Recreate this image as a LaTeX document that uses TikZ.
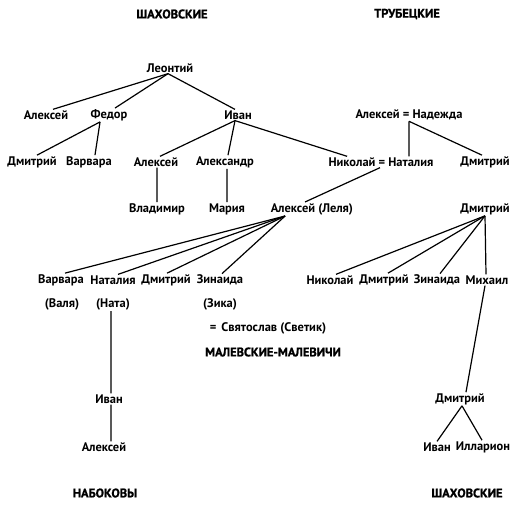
\documentclass[tikz,border=0pt]{standalone}
\usepackage{fontspec}
\setmainfont{PT Sans}
\newfontfamily\heavyfont{PT Sans}[BoldFeatures={FakeBold=1.2}]
\begin{document}
\begin{tikzpicture}[x=1bp,y=-1bp,
  n/.style={inner sep=1bp, font=\bfseries\fontsize{12.5}{14}\selectfont},
  ttl/.style={inner sep=1bp, font=\heavyfont\bfseries\fontsize{12.5}{14}\selectfont},
  ln/.style={line width=1.2bp}]
\useasboundingbox (0,0) rectangle (531,509);
% titles
\node[ttl] (shT) at (172,14) {ШАХОВСКИЕ};
\node[ttl] (trT) at (407,14) {ТРУБЕЦКИЕ};
\node[ttl] (mal) at (273,352) {МАЛЕВСКИЕ-МАЛЕВИЧИ};
\node[ttl] (nab) at (105,493) {НАБОКОВЫ};
\node[ttl] (sh2) at (467,493) {ШАХОВСКИЕ};
% Shakhovskie
\node[n] (leo) at (170,68) {Леонтий};
\node[n] (al1) at (46,115) {Алексей};
\node[n] (fed) at (109,115) {Федор};
\node[n] (iv1) at (238,115) {Иван};
\node[n] (dm1) at (32,162) {Дмитрий};
\node[n] (va1) at (89,162) {Варвара};
\node[n] (al2) at (156,162) {Алексей};
\node[n] (aln) at (225,162) {Александр};
\node[n] (vla) at (157,209) {Владимир};
\node[n] (mar) at (227,209) {Мария};
% Trubetskie
\node[n] (aln2) at (409,115) {Алексей = Надежда};
\node[n] (nik) at (381,162) {Николай = Наталия};
\node[n] (dm2) at (485,162) {Дмитрий};
\node[n] (lel) at (312,209) {Алексей (Леля)};
\node[n] (dm3) at (485,209) {Дмитрий};
% children of Lelya
\node[n] (va2) at (61,280) {Варвара};
\node[n] (nat) at (113,280) {Наталия};
\node[n] (dm4) at (166,280) {Дмитрий};
\node[n] (zin) at (220,280) {Зинаида};
\node[n] (val) at (62,304) {(Валя)};
\node[n] (nata) at (113,304) {(Ната)};
\node[n] (zik) at (220,304) {(Зика)};
\node[n] (svet) at (268,328) {=\hspace{5bp}Святослав (Светик)};
% children of right Dmitry
\node[n] (nik2) at (330,280) {Николай};
\node[n] (dm5) at (384,280) {Дмитрий};
\node[n] (zin2) at (437,280) {Зинаида};
\node[n] (mih) at (487,280) {Михаил};
% lower
\node[n] (iv2) at (109,399) {Иван};
\node[n] (al3) at (104,447) {Алексей};
\node[n] (dm6) at (460,399) {Дмитрий};
\node[n] (iv3) at (437,447) {Иван};
\node[n] (ill) at (483,447) {Илларион};
% connectors
\draw[ln] ([xshift=-2]leo.south) -- ([xshift=7]al1.north);
\draw[ln] ([xshift=-2]leo.south) -- ([xshift=6]fed.north);
\draw[ln] ([xshift=-2]leo.south) -- ([xshift=-3]iv1.north);
\draw[ln] ([xshift=-9]fed.south) -- ([xshift=5]dm1.north);
\draw[ln] ([xshift=-9]fed.south) -- ([xshift=6]va1.north);
\draw[ln] ([xshift=-3]iv1.south) -- ([xshift=4]al2.north);
\draw[ln] ([xshift=-3]iv1.south) -- ([xshift=3]aln.north);
\draw[ln] ([xshift=-3]iv1.south) -- ([xshift=-34]nik.north);
\draw[ln] ([xshift=1]al2.south) -- (vla.north);
\draw[ln] ([xshift=2]aln.south) -- (mar.north);
\draw[ln] (aln2.south) -- ([xshift=28]nik.north);
\draw[ln] (aln2.south) -- ([xshift=-3]dm2.north);
\draw[ln] ([xshift=-1]nik.south) -- ([xshift=-7]lel.north);
\draw[ln] ([xshift=-27]lel.south) -- ([xshift=4]va2.north);
\draw[ln] ([xshift=-27]lel.south) -- ([xshift=5]nat.north);
\draw[ln] ([xshift=-27]lel.south) -- ([xshift=1]dm4.north);
\draw[ln] ([xshift=-27]lel.south) -- ([xshift=2]zin.north);
\draw[ln] (dm3.south) -- ([xshift=6]nik2.north);
\draw[ln] (dm3.south) -- ([xshift=4]dm5.north);
\draw[ln] (dm3.south) -- ([xshift=3]zin2.north);
\draw[ln] (dm3.south) -- ([xshift=-1]mih.north);
\draw[ln] ([xshift=-2]mih.south) -- ([xshift=6]dm6.north);
\draw[ln] ([xshift=2]dm6.south) -- (iv3.north);
\draw[ln] ([xshift=2]dm6.south) -- ([xshift=-1]ill.north);
\draw[ln] ([xshift=-2]nata.south) -- ([xshift=2]iv2.north);
\draw[ln] ([xshift=2]iv2.south) -- ([xshift=7]al3.north);
\end{tikzpicture}
\end{document}
